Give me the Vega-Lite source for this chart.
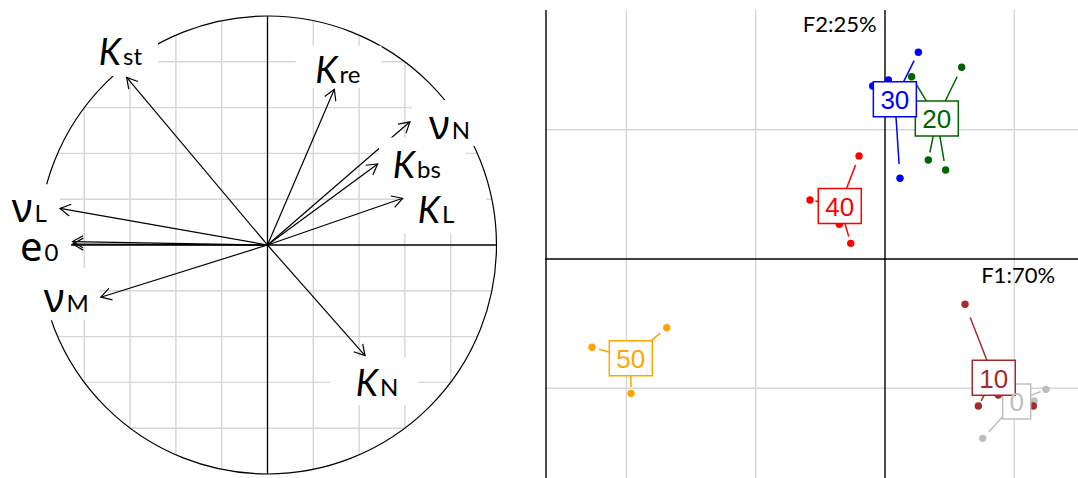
{
  "$schema": "https://vega.github.io/schema/vega-lite/v6.json",
  "padding": 0,
  "spacing": 5,
  "bounds": "flush",
  "config": {"view": {"stroke": null}},
  "resolve": {"scale": {"shape": "independent", "color": "independent", "stroke": "independent"}},
  "datasets": {
    "lgrid": [
      {"x": -0.8, "y": -0.6, "x2": -0.8, "y2": 0.6},
      {"x": -0.6, "y": -0.8, "x2": -0.6, "y2": 0.8},
      {"x": -0.4, "y": -0.9165, "x2": -0.4, "y2": 0.9165},
      {"x": -0.2, "y": -0.9798, "x2": -0.2, "y2": 0.9798},
      {"x": 0.2, "y": -0.9798, "x2": 0.2, "y2": 0.9798},
      {"x": 0.4, "y": -0.9165, "x2": 0.4, "y2": 0.9165},
      {"x": 0.6, "y": -0.8, "x2": 0.6, "y2": 0.8},
      {"x": 0.8, "y": -0.6, "x2": 0.8, "y2": 0.6},
      {"x": -0.6, "y": -0.8, "x2": 0.6, "y2": -0.8},
      {"x": -0.8, "y": -0.6, "x2": 0.8, "y2": -0.6},
      {"x": -0.9165, "y": -0.4, "x2": 0.9165, "y2": -0.4},
      {"x": -0.9798, "y": -0.2, "x2": 0.9798, "y2": -0.2},
      {"x": -0.9798, "y": 0.2, "x2": 0.9798, "y2": 0.2},
      {"x": -0.9165, "y": 0.4, "x2": 0.9165, "y2": 0.4},
      {"x": -0.8, "y": 0.6, "x2": 0.8, "y2": 0.6},
      {"x": -0.6, "y": 0.8, "x2": 0.6, "y2": 0.8}
    ],
    "laxes": [
      {"x": -1, "y": 0, "x2": 1, "y2": 0},
      {"x": 0, "y": -1, "x2": 0, "y2": 1}
    ],
    "origin": [{"x": 0, "y": 0}],
    "arrows": [
      {"v": "K_st", "x": -0.615, "y": 0.732},
      {"v": "K_re", "x": 0.292, "y": 0.680},
      {"v": "nu_N", "x": 0.622, "y": 0.538},
      {"v": "K_bs", "x": 0.481, "y": 0.354},
      {"v": "K_L", "x": 0.590, "y": 0.204},
      {"v": "nu_L", "x": -0.906, "y": 0.160},
      {"v": "e0", "x": -0.851, "y": 0.015},
      {"v": "e0", "x": -0.850, "y": 0.004},
      {"v": "nu_M", "x": -0.728, "y": -0.228},
      {"v": "K_N", "x": 0.426, "y": -0.483}
    ],
    "labels": [
      {"lab": "K_st", "m": "K", "s": "st", "x": -0.6397, "y": 0.7860},
      {"lab": "K_re", "m": "K", "s": "re", "x": 0.3057, "y": 0.7087},
      {"lab": "nu_N", "m": "ν", "s": "N", "x": 0.7956, "y": 0.4616},
      {"lab": "K_bs", "m": "K", "s": "bs", "x": 0.6441, "y": 0.2913},
      {"lab": "K_L", "m": "K", "s": "L", "x": 0.7533, "y": 0.0948},
      {"lab": "nu_L", "m": "ν", "s": "L", "x": -1.0262, "y": 0.0991},
      {"lab": "e0", "m": "e", "s": "0", "x": -0.9825, "y": -0.0699},
      {"lab": "nu_M", "m": "ν", "s": "M", "x": -0.8865, "y": -0.2939},
      {"lab": "K_N", "m": "K", "s": "N", "x": 0.4825, "y": -0.6581}
    ],
    "rgrid": [
      {"x": -2, "y": -1.6937, "x2": -2, "y2": 1.9258},
      {"x": -1, "y": -1.6937, "x2": -1, "y2": 1.9258},
      {"x": 1, "y": -1.6937, "x2": 1, "y2": 1.9258},
      {"x": -2.6295, "y": -1, "x2": 1.4926, "y2": -1},
      {"x": -2.6295, "y": 1, "x2": 1.4926, "y2": 1}
    ],
    "raxes": [
      {"x": 0, "y": -1.6937, "x2": 0, "y2": 1.9258},
      {"x": -2.6295, "y": 0, "x2": 1.4926, "y2": 0},
      {"x": -2.6218, "y": -1.6937, "x2": -2.6218, "y2": 1.9258}
    ],
    "pts": [
      {"g": "0", "x": 1.245, "y": -1.008},
      {"g": "0", "x": 1.152, "y": -1.098},
      {"g": "0", "x": 0.756, "y": -1.387},
      {"g": "0", "x": 0.920, "y": -0.913},
      {"g": "10", "x": 0.619, "y": -0.350},
      {"g": "10", "x": 0.722, "y": -1.137},
      {"g": "10", "x": 0.876, "y": -1.052},
      {"g": "10", "x": 1.147, "y": -1.137},
      {"g": "20", "x": 0.593, "y": 1.483},
      {"g": "20", "x": 0.206, "y": 1.410},
      {"g": "20", "x": 0.335, "y": 0.766},
      {"g": "20", "x": 0.469, "y": 0.688},
      {"g": "30", "x": 0.258, "y": 1.599},
      {"g": "30", "x": 0.026, "y": 1.384},
      {"g": "30", "x": -0.095, "y": 1.338},
      {"g": "30", "x": 0.116, "y": 0.624},
      {"g": "40", "x": -0.201, "y": 0.797},
      {"g": "40", "x": -0.580, "y": 0.456},
      {"g": "40", "x": -0.353, "y": 0.268},
      {"g": "40", "x": -0.265, "y": 0.121},
      {"g": "50", "x": -1.688, "y": -0.531},
      {"g": "50", "x": -2.266, "y": -0.683},
      {"g": "50", "x": -1.964, "y": -1.039},
      {"g": "50", "x": -1.945, "y": -0.820}
    ],
    "axlabels": [
      {"t": "F2:25%", "x": -0.064, "y": 1.753},
      {"t": "F1:70%", "x": 1.315, "y": -0.188}
    ]
  },
  "hconcat": [
    {
      "width": 540,
      "height": 478,
      "layer": [
        {
          "data": {"name": "lgrid"},
          "mark": {"type": "rule", "color": "#D6D6D6", "strokeWidth": 1.4},
          "encoding": {
            "x": {"field": "x", "type": "quantitative", "scale": {"domain": [-1.1681, 1.19], "nice": false, "zero": false}, "axis": null},
            "y": {"field": "y", "type": "quantitative", "scale": {"domain": [-1.0175, 1.0699], "nice": false, "zero": false}, "axis": null},
            "x2": {"field": "x2"},
            "y2": {"field": "y2"}
          }
        },
        {
          "data": {"name": "laxes"},
          "mark": {"type": "rule", "color": "black", "strokeWidth": 1.3},
          "encoding": {
            "x": {"field": "x", "type": "quantitative", "scale": {"domain": [-1.1681, 1.19], "nice": false, "zero": false}, "axis": null},
            "y": {"field": "y", "type": "quantitative", "scale": {"domain": [-1.0175, 1.0699], "nice": false, "zero": false}, "axis": null},
            "x2": {"field": "x2"},
            "y2": {"field": "y2"}
          }
        },
        {
          "data": {"name": "origin"},
          "mark": {"type": "point", "shape": "circle", "filled": false, "stroke": "black", "strokeWidth": 1.2, "opacity": 1, "size": 209764},
          "encoding": {
            "x": {"field": "x", "type": "quantitative", "scale": {"domain": [-1.1681, 1.19], "nice": false, "zero": false}, "axis": null},
            "y": {"field": "y", "type": "quantitative", "scale": {"domain": [-1.0175, 1.0699], "nice": false, "zero": false}, "axis": null}
          }
        },
        {
          "data": {"name": "arrows"},
          "mark": {"type": "rule", "color": "black", "strokeWidth": 1.2},
          "encoding": {
            "x": {"field": "x", "type": "quantitative", "scale": {"domain": [-1.1681, 1.19], "nice": false, "zero": false}, "axis": null},
            "y": {"field": "y", "type": "quantitative", "scale": {"domain": [-1.0175, 1.0699], "nice": false, "zero": false}, "axis": null},
            "x2": {"datum": 0},
            "y2": {"datum": 0}
          }
        },
        {
          "data": {"name": "labels"},
          "mark": {"type": "point", "filled": true, "fill": "white", "strokeWidth": 0, "opacity": 1, "size": 10000, "clip": true},
          "encoding": {
            "x": {"field": "x", "type": "quantitative", "scale": {"domain": [-1.1681, 1.19], "nice": false, "zero": false}, "axis": null},
            "y": {"field": "y", "type": "quantitative", "scale": {"domain": [-1.0175, 1.0699], "nice": false, "zero": false}, "axis": null},
            "shape": {
              "field": "lab", "type": "nominal", "legend": null,
              "scale": {
                "domain": ["K_st", "K_re", "nu_N", "K_bs", "K_L", "nu_L", "e0", "nu_M", "K_N"],
                "range": [
                  "M-0.72,-0.66L0.74,-0.66L0.74,0.22L-0.72,0.22Z",
                  "M-0.84,-0.74L0.88,-0.74L0.88,0.1L-0.84,0.1Z",
                  "M-0.754,-0.786L0.726,-0.786L0.726,0.134L-0.754,0.134Z",
                  "M-0.72,-0.816L1.02,-0.816L1.02,0.2L-0.72,0.2Z",
                  "M-0.72,-0.76L0.92,-0.76L0.92,0.2L-0.72,0.2Z",
                  "M-0.9,-0.76L0.55,-0.76L0.55,0.2L-0.9,0.2Z",
                  "M-0.9,-0.76L0.57,-0.76L0.57,0.2L-0.9,0.2Z",
                  "M-1,-0.88L0.69,-0.88L0.69,0.16L-1,0.16Z",
                  "M-0.96,-0.774L0.8,-0.774L0.8,0.186L-0.96,0.186Z"
                ]
              }
            }
          }
        },
        {
          "data": {"name": "arrows"},
          "transform": [{"calculate": "atan2(datum.x, datum.y) * 180 / PI", "as": "ang"}],
          "mark": {"type": "point", "shape": "M-0.5,0.866L0,0L0.5,0.866", "filled": false, "stroke": "black", "strokeWidth": 1.2, "opacity": 1, "size": 576},
          "encoding": {
            "x": {"field": "x", "type": "quantitative", "scale": {"domain": [-1.1681, 1.19], "nice": false, "zero": false}, "axis": null},
            "y": {"field": "y", "type": "quantitative", "scale": {"domain": [-1.0175, 1.0699], "nice": false, "zero": false}, "axis": null},
            "angle": {"field": "ang", "type": "quantitative", "scale": null}
          }
        },
        {
          "data": {"name": "labels"},
          "transform": [{"filter": "datum.m === 'K'"}],
          "mark": {"type": "text", "font": "Lato", "fontStyle": "italic", "fontSize": 36, "align": "right", "baseline": "alphabetic", "color": "black"},
          "encoding": {
            "x": {"field": "x", "type": "quantitative", "scale": {"domain": [-1.1681, 1.19], "nice": false, "zero": false}, "axis": null},
            "y": {"field": "y", "type": "quantitative", "scale": {"domain": [-1.0175, 1.0699], "nice": false, "zero": false}, "axis": null},
            "text": {"field": "m"}
          }
        },
        {
          "data": {"name": "labels"},
          "transform": [{"filter": "datum.m !== 'K'"}],
          "mark": {"type": "text", "font": "Noto Sans", "fontSize": 40, "align": "right", "baseline": "alphabetic", "color": "black"},
          "encoding": {
            "x": {"field": "x", "type": "quantitative", "scale": {"domain": [-1.1681, 1.19], "nice": false, "zero": false}, "axis": null},
            "y": {"field": "y", "type": "quantitative", "scale": {"domain": [-1.0175, 1.0699], "nice": false, "zero": false}, "axis": null},
            "text": {"field": "m"}
          }
        },
        {
          "data": {"name": "labels"},
          "mark": {"type": "text", "font": "Lato", "fontSize": 24, "align": "left", "baseline": "alphabetic", "color": "black", "dx": 2},
          "encoding": {
            "x": {"field": "x", "type": "quantitative", "scale": {"domain": [-1.1681, 1.19], "nice": false, "zero": false}, "axis": null},
            "y": {"field": "y", "type": "quantitative", "scale": {"domain": [-1.0175, 1.0699], "nice": false, "zero": false}, "axis": null},
            "text": {"field": "s"}
          }
        }
      ]
    },
    {
      "width": 533,
      "height": 478,
      "layer": [
        {
          "data": {"name": "rgrid"},
          "mark": {"type": "rule", "color": "#D6D6D6", "strokeWidth": 1.4},
          "encoding": {
            "x": {"field": "x", "type": "quantitative", "scale": {"domain": [-2.6295, 1.4926], "nice": false, "zero": false}, "axis": null},
            "y": {"field": "y", "type": "quantitative", "scale": {"domain": [-1.6937, 2.0031], "nice": false, "zero": false}, "axis": null},
            "x2": {"field": "x2"},
            "y2": {"field": "y2"}
          }
        },
        {
          "data": {"name": "raxes"},
          "mark": {"type": "rule", "color": "black", "strokeWidth": 1.4},
          "encoding": {
            "x": {"field": "x", "type": "quantitative", "scale": {"domain": [-2.6295, 1.4926], "nice": false, "zero": false}, "axis": null},
            "y": {"field": "y", "type": "quantitative", "scale": {"domain": [-1.6937, 2.0031], "nice": false, "zero": false}, "axis": null},
            "x2": {"field": "x2"},
            "y2": {"field": "y2"}
          }
        },
        {
          "data": {"name": "axlabels"},
          "mark": {"type": "text", "font": "Lato", "fontSize": 22, "align": "right", "baseline": "alphabetic", "color": "black"},
          "encoding": {
            "x": {"field": "x", "type": "quantitative", "scale": {"domain": [-2.6295, 1.4926], "nice": false, "zero": false}, "axis": null},
            "y": {"field": "y", "type": "quantitative", "scale": {"domain": [-1.6937, 2.0031], "nice": false, "zero": false}, "axis": null},
            "text": {"field": "t"}
          }
        },
        {
          "data": {"name": "pts"},
          "transform": [
            {"joinaggregate": [{"op": "mean", "field": "x", "as": "cx"}, {"op": "mean", "field": "y", "as": "cy"}], "groupby": ["g"]},
            {"calculate": "datum.cx + 0.82 * (datum.x - datum.cx)", "as": "ex"},
            {"calculate": "datum.cy + 0.82 * (datum.y - datum.cy)", "as": "ey"}
          ],
          "mark": {"type": "rule", "strokeWidth": 1.5},
          "encoding": {
            "x": {"field": "cx", "type": "quantitative", "scale": {"domain": [-2.6295, 1.4926], "nice": false, "zero": false}, "axis": null},
            "y": {"field": "cy", "type": "quantitative", "scale": {"domain": [-1.6937, 2.0031], "nice": false, "zero": false}, "axis": null},
            "x2": {"field": "ex"},
            "y2": {"field": "ey"},
            "color": {"field": "g", "type": "nominal", "legend": null, "scale": {"domain": ["0", "10", "20", "30", "40", "50"], "range": ["#BEBEBE", "#A52A2A", "#006400", "#0000FF", "#FF0000", "#FFA500"]}}
          }
        },
        {
          "data": {"name": "pts"},
          "mark": {"type": "point", "shape": "circle", "filled": true, "opacity": 1, "size": 55},
          "encoding": {
            "x": {"field": "x", "type": "quantitative", "scale": {"domain": [-2.6295, 1.4926], "nice": false, "zero": false}, "axis": null},
            "y": {"field": "y", "type": "quantitative", "scale": {"domain": [-1.6937, 2.0031], "nice": false, "zero": false}, "axis": null},
            "color": {"field": "g", "type": "nominal", "legend": null, "scale": {"domain": ["0", "10", "20", "30", "40", "50"], "range": ["#BEBEBE", "#A52A2A", "#006400", "#0000FF", "#FF0000", "#FFA500"]}}
          }
        },
        {
          "data": {"name": "pts"},
          "transform": [{"aggregate": [{"op": "mean", "field": "x", "as": "cx"}, {"op": "mean", "field": "y", "as": "cy"}], "groupby": ["g"]}],
          "mark": {"type": "point", "filled": false, "fill": "white", "fillOpacity": 1, "strokeWidth": 1.5, "opacity": 1, "size": 10000},
          "encoding": {
            "x": {"field": "cx", "type": "quantitative", "scale": {"domain": [-2.6295, 1.4926], "nice": false, "zero": false}, "axis": null},
            "y": {"field": "cy", "type": "quantitative", "scale": {"domain": [-1.6937, 2.0031], "nice": false, "zero": false}, "axis": null},
            "stroke": {"field": "g", "type": "nominal", "legend": null, "scale": {"domain": ["0", "10", "20", "30", "40", "50"], "range": ["#BEBEBE", "#A52A2A", "#006400", "#0000FF", "#FF0000", "#FFA500"]}},
            "shape": {"field": "g", "type": "nominal", "legend": null, "scale": {"domain": ["0", "10", "20", "30", "40", "50"], "range": ["M-0.28,-0.35L0.28,-0.35L0.28,0.35L-0.28,0.35Z", "M-0.43,-0.35L0.43,-0.35L0.43,0.35L-0.43,0.35Z", "M-0.43,-0.35L0.43,-0.35L0.43,0.35L-0.43,0.35Z", "M-0.43,-0.35L0.43,-0.35L0.43,0.35L-0.43,0.35Z", "M-0.43,-0.35L0.43,-0.35L0.43,0.35L-0.43,0.35Z", "M-0.43,-0.35L0.43,-0.35L0.43,0.35L-0.43,0.35Z"]}}
          }
        },
        {
          "data": {"name": "pts"},
          "transform": [{"aggregate": [{"op": "mean", "field": "x", "as": "cx"}, {"op": "mean", "field": "y", "as": "cy"}], "groupby": ["g"]}],
          "mark": {"type": "text", "font": "Liberation Sans", "fontSize": 26, "align": "center", "baseline": "middle", "dy": 2},
          "encoding": {
            "x": {"field": "cx", "type": "quantitative", "scale": {"domain": [-2.6295, 1.4926], "nice": false, "zero": false}, "axis": null},
            "y": {"field": "cy", "type": "quantitative", "scale": {"domain": [-1.6937, 2.0031], "nice": false, "zero": false}, "axis": null},
            "text": {"field": "g"},
            "color": {"field": "g", "type": "nominal", "legend": null, "scale": {"domain": ["0", "10", "20", "30", "40", "50"], "range": ["#BEBEBE", "#A52A2A", "#006400", "#0000FF", "#FF0000", "#FFA500"]}}
          }
        }
      ]
    }
  ]
}
